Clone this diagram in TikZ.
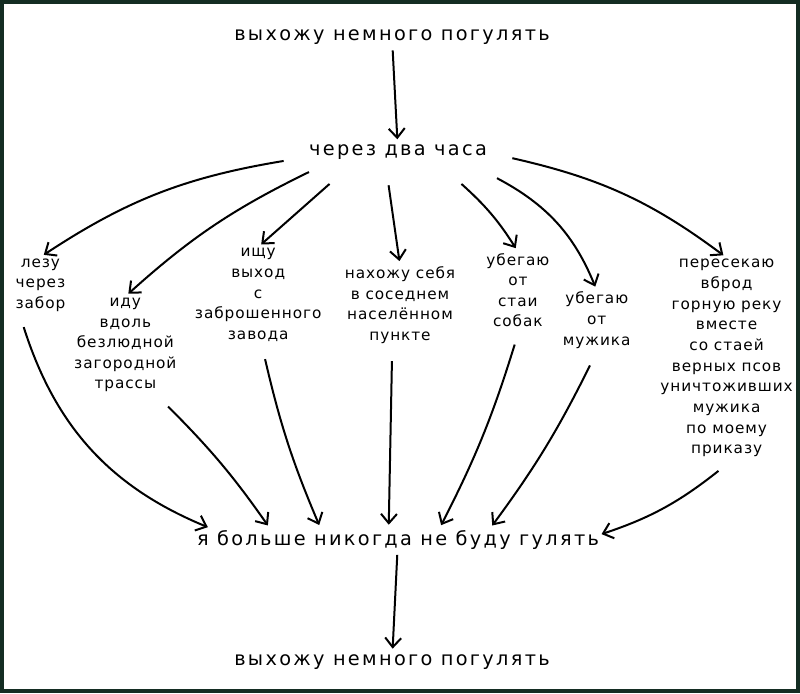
\documentclass[tikz,border=0pt]{standalone}
\usepackage{fontspec}
\setmainfont{DejaVu Sans}
\usetikzlibrary{arrows.meta}
\tikzset{
  says/.style={align=center, inner sep=1pt, font=\fontsize{11.5}{15.5}\selectfont\addfontfeature{LetterSpace=6}},
  title/.style={says, font=\fontsize{14.5}{17}\selectfont\addfontfeature{LetterSpace=12}},
  arr/.style={-{Straight Barb[length=7pt,width=12pt]}, line width=1.5pt, shorten <=3pt, shorten >=3pt}
}

\begin{document}
\begin{tikzpicture}[x=0.75pt, y=-0.75pt]
	\fill[white] (0,0) rectangle (800,693);
	\draw[line width=3pt, draw={rgb,255:red,20;green,45;blue,35}] (1.5,1.5) rectangle (798.5,691.5);
	
	\node (walk) [title] at (392,37) {выхожу немного погулять};
	\node (later) [title] at (398,152) {через два часа};
	
	\node (fence) [says] at (40,285) {лезу\\через\\забор};
	\node (road) [says] at (125,345) {иду\\вдоль\\безлюдной\\загородной\\трассы};
	\node (plant) [says] at (258,295) {ищу\\выход\\с\\заброшенного\\завода};
	\node (town) [says] at (400,305) {нахожу себя\\в соседнем\\населённом\\пункте};
	\node (dogs) [says] at (518,290) {убегаю\\от\\стаи\\собак};
	\node (man) [says] at (597,320) {убегаю\\от\\мужика};
	\node (river) [says] at (727,358) {пересекаю\\вброд\\горную реку\\вместе\\со стаей\\верных псов\\уничтоживших\\мужика\\по моему\\приказу};
	
	\node (never) [title] at (398,540) {я больше никогда не буду гулять};
	\node (again) [title] at (392,662) {выхожу немного погулять};
	
	\draw[arr] (walk) -- (later);
	\draw[arr] (later.west) ++(-20,8) coordinate (a1) to[bend right=12] (fence.north);
	\draw[arr] (later.west) ++(5,18) coordinate (a2) to[bend right=8] (road.north);
	\draw[arr] (later.south west) ++(25,20) coordinate (a3) -- (plant.north);
	\draw[arr] (later.south) ++(-10,20) coordinate (a4) -- (town.north);
	\draw[arr] (later.south east) ++(-30,20) coordinate (a5) to[bend left=8] (dogs.north);
	\draw[arr] (later.south east) ++(5,15) coordinate (a6) to[bend left=20] (man.north);
	\draw[arr] (later.east) ++(20,5) coordinate (a7) to[bend left=12] (river.north);
	
	\draw[arr] (fence.south) ++(-18,10) coordinate (b1) to[bend right=25] ([xshift=-140pt]never.north);
	\draw[arr] (road.south) ++(40,10) coordinate (b2) to[bend left=5] ([xshift=-96pt]never.north);
	\draw[arr] (plant.south) ++(6,12) coordinate (b3) to[bend right=5] ([xshift=-58pt]never.north);
	\draw[arr] (town.south) ++(-8,12) coordinate (b4) -- ([xshift=-7pt]never.north);
	\draw[arr] (dogs.south) ++(-2,12) coordinate (b5) to[bend left=5] ([xshift=31pt]never.north);
	\draw[arr] (man.south) ++(-5,12) coordinate (b6) to[bend left=5] ([xshift=69pt]never.north);
	\draw[arr] (river.south) ++(-5,10) coordinate (b7) to[bend left=10] ([xshift=150pt,yshift=-5pt]never.north);
	
	\draw[arr] (never) -- (again);
\end{tikzpicture}
\end{document}
